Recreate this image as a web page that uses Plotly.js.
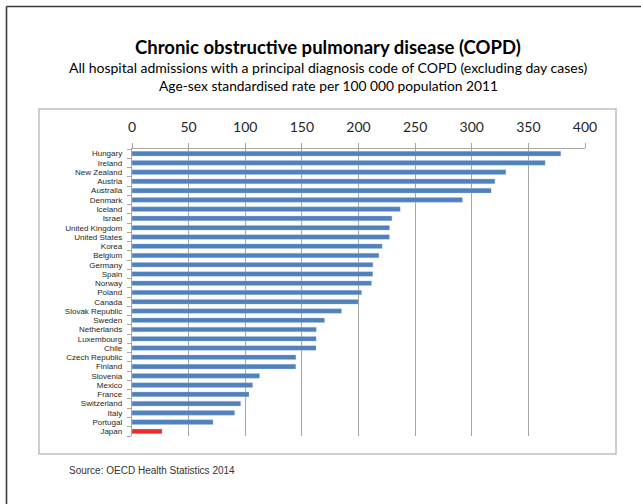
<!DOCTYPE html>
<html>
<head>
<meta charset="utf-8">
<script src="https://cdn.plot.ly/plotly-3.0.1.min.js"></script>
<style>
  html, body { margin: 0; padding: 0; background: #fff; }
  #chart { width: 641px; height: 504px; }
</style>
</head>
<body>
<div id="chart"></div>
<script>
// COPD hospital admissions, age-sex standardised rate per 100 000 population, 2011
const countries = [
  "Hungary", "Ireland", "New Zealand", "Austria", "Australia", "Denmark",
  "Iceland", "Israel", "United Kingdom", "United States", "Korea", "Belgium",
  "Germany", "Spain", "Norway", "Poland", "Canada", "Slovak Republic",
  "Sweden", "Netherlands", "Luxembourg", "Chile", "Czech Republic", "Finland",
  "Slovenia", "Mexico", "France", "Switzerland", "Italy", "Portugal", "Japan"
];
const rates = [
  378.6, 364.8, 330.1, 320.4, 317.1, 291.8,
  236.8, 229.5, 227.4, 227.3, 220.9, 218.0,
  212.7, 212.6, 211.5, 202.7, 199.7, 185.0,
  170.0, 162.7, 162.6, 162.5, 144.7, 144.6,
  112.6, 106.5, 103.3, 95.9, 90.6, 71.5, 26.5
];
const highlighted = ["Japan"];
const xTicks = [0, 50, 100, 150, 200, 250, 300, 350, 400];

const BLUE = "#4f81bd";
const RED = "#ee2a24";
const barColors = countries.map(c => highlighted.includes(c) ? RED : BLUE);

// plot area geometry (pixels) used to place frames and text in paper units
const W = 641, H = 504;
const M = { l: 132, r: 56, t: 149, b: 68 };
const pw = W - M.l - M.r, ph = H - M.t - M.b;
const px = x => (x - M.l) / pw;
const py = y => (H - M.b - y) / ph;

const trace = {
  type: "bar",
  orientation: "h",
  x: rates,
  y: countries,
  width: 0.5,
  marker: { color: barColors, line: { color: "rgba(167,191,222,0.7)", width: 0.5 } },
  hoverinfo: "x+y"
};

const layout = {
  width: W,
  height: H,
  margin: M,
  paper_bgcolor: "#fff",
  plot_bgcolor: "#fff",
  showlegend: false,
  font: { family: "Lato, 'Open Sans', sans-serif", color: "#262626" },
  xaxis: {
    side: "top",
    range: [0, 400],
    tickvals: xTicks,
    ticktext: xTicks.map(String),
    showgrid: true,
    gridcolor: "#a6a6a6",
    gridwidth: 1.2,
    zeroline: false,
    showline: true,
    linecolor: "#a6a6a6",
    linewidth: 1.2,
    ticks: "outside",
    ticklen: 5,
    tickcolor: "#a6a6a6",
    ticklabelstandoff: 5,
    tickfont: { size: 14, color: "#262626" },
    fixedrange: true
  },
  yaxis: {
    type: "category",
    autorange: "reversed",
    tickmode: "array",
    tickvals: countries,
    ticktext: countries,
    showgrid: false,
    zeroline: false,
    showline: true,
    linecolor: "#a6a6a6",
    linewidth: 1.2,
    ticks: "outside",
    tickson: "boundaries",
    ticklen: 4,
    tickcolor: "#a6a6a6",
    ticklabelstandoff: 7,
    ticklabeloverflow: "allow",
    tickfont: { family: "'Liberation Sans', Arial, sans-serif", size: 8, color: "#262626" },
    fixedrange: true
  },
  shapes: [
    // inner chart frame
    { type: "rect", xref: "paper", yref: "paper",
      x0: px(39), x1: px(616), y0: py(454), y1: py(109),
      line: { color: "#bfbfbf", width: 1.5 }, fillcolor: "rgba(0,0,0,0)" },
    // outer border (top and left)
    { type: "line", xref: "paper", yref: "paper",
      x0: px(6.5), x1: px(645), y0: py(6.5), y1: py(6.5),
      line: { color: "#3a3a3a", width: 1.6 } },
    { type: "line", xref: "paper", yref: "paper",
      x0: px(6.5), x1: px(6.5), y0: py(6.5), y1: py(510),
      line: { color: "#3a3a3a", width: 1.6 } }
  ],
  annotations: [
    { text: "<b>Chronic obstructive pulmonary disease (COPD)</b>",
      xref: "paper", yref: "paper", x: px(328), y: py(60),
      xanchor: "center", yanchor: "bottom", showarrow: false,
      font: { size: 18.5, color: "#000" } },
    { text: "All hospital admissions with a principal diagnosis code of COPD (excluding day cases)",
      xref: "paper", yref: "paper", x: px(328), y: py(78),
      xanchor: "center", yanchor: "bottom", showarrow: false,
      font: { size: 14, color: "#000" } },
    { text: "Age-sex standardised rate per 100 000 population 2011",
      xref: "paper", yref: "paper", x: px(328), y: py(96),
      xanchor: "center", yanchor: "bottom", showarrow: false,
      font: { size: 13.8, color: "#000" } },
    { text: "Source: OECD Health Statistics 2014",
      xref: "paper", yref: "paper", x: px(67), y: py(470),
      xanchor: "left", yanchor: "middle", showarrow: false,
      font: { family: "'Liberation Sans', Arial, sans-serif", size: 10, color: "#333" } }
  ]
};

Plotly.newPlot("chart", [trace], layout, { displayModeBar: false, staticPlot: true });
</script>
</body>
</html>
